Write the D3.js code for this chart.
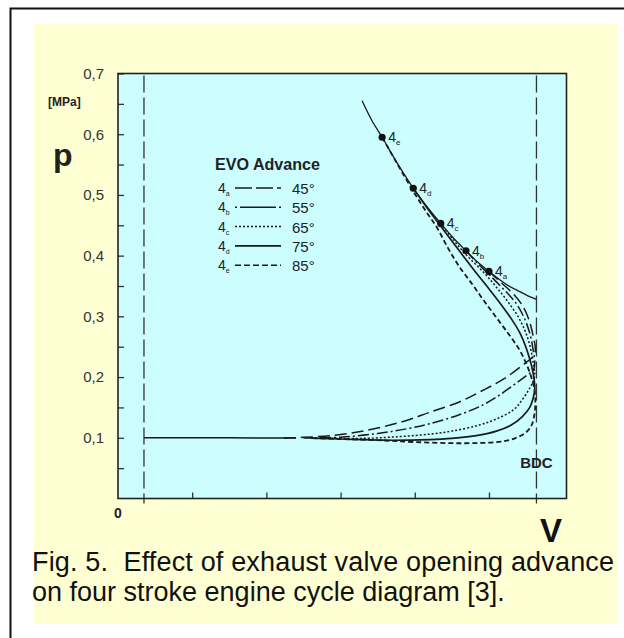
<!DOCTYPE html>
<html>
<head>
<meta charset="utf-8">
<script src="https://cdn.jsdelivr.net/npm/d3@7"></script>
<style>
  html, body { margin: 0; padding: 0; background: #ffffff; }
  svg { display: block; }
  text { font-family: "Liberation Sans", Arial, sans-serif; }
</style>
</head>
<body>
<script>
// ---------------- data ----------------
const yTicks = [0.1, 0.2, 0.3, 0.4, 0.5, 0.6, 0.7];
const yTickLabels = ["0,1", "0,2", "0,3", "0,4", "0,5", "0,6", "0,7"];
const yMinorTicks = [0.05, 0.15, 0.25, 0.35, 0.45, 0.55, 0.65];
const xTicks = [1, 2, 3, 4, 5];
const vTDC = 0.35;
const vBDC = 5.64;

const evoLetters = ["a", "b", "c", "d", "e"];
const evoAngles = ["45°", "55°", "65°", "75°", "85°"];

// EVO points 4a..4e on the expansion line [V, p]
const evoPoints = [[5.00, 0.374], [4.69, 0.408], [4.35, 0.453], [3.98, 0.511], [3.56, 0.595]];

// main expansion line (thin solid)
const expansion = [[3.29, 0.655], [3.42, 0.623], [3.56, 0.595], [3.77, 0.551], [3.98, 0.511],
  [4.17, 0.480], [4.35, 0.453], [4.52, 0.429], [4.69, 0.408], [4.85, 0.389], [5.00, 0.374],
  [5.23, 0.353], [5.41, 0.341], [5.54, 0.333], [5.64, 0.328]];

// exhaust base line at 0.1 MPa
const exhaustBase = [[0.35, 0.100], [1.5, 0.100], [2.4, 0.0995]];

// 45° — long dash
const curveA = [[5.00, 0.374], [5.17, 0.355], [5.32, 0.338], [5.45, 0.318], [5.54, 0.294],
  [5.595, 0.268], [5.625, 0.247], [5.61, 0.236], [5.50, 0.224], [5.20, 0.197], [4.90, 0.177],
  [4.60, 0.159], [4.20, 0.142], [3.90, 0.129], [3.50, 0.116], [3.10, 0.107], [2.70, 0.102],
  [2.20, 0.0995]];
// 55° — dash-dot
const curveB = [[4.69, 0.408], [4.85, 0.387], [5.00, 0.369], [5.17, 0.348], [5.35, 0.324],
  [5.47, 0.299], [5.55, 0.272], [5.595, 0.245], [5.617, 0.222], [5.60, 0.212], [5.50, 0.202],
  [5.30, 0.184], [5.10, 0.167], [4.90, 0.153], [4.60, 0.138], [4.20, 0.123], [3.90, 0.115],
  [3.50, 0.107], [3.00, 0.101], [2.50, 0.0995]];
// 65° — dotted
const curveC = [[4.35, 0.453], [4.52, 0.426], [4.68, 0.403], [4.90, 0.376], [5.08, 0.351],
  [5.25, 0.325], [5.40, 0.298], [5.50, 0.272], [5.565, 0.245], [5.60, 0.220], [5.617, 0.205],
  [5.60, 0.194], [5.55, 0.182], [5.45, 0.163], [5.33, 0.146], [5.10, 0.131], [4.87, 0.121],
  [4.50, 0.111], [4.20, 0.106], [3.80, 0.102], [3.30, 0.099], [2.70, 0.0995]];
// 75° — solid
const curveD = [[3.98, 0.511], [4.17, 0.478], [4.34, 0.450], [4.50, 0.424], [4.65, 0.400],
  [4.80, 0.376], [4.97, 0.350], [5.13, 0.325], [5.29, 0.298], [5.42, 0.272], [5.51, 0.245],
  [5.575, 0.218], [5.61, 0.195], [5.617, 0.180], [5.595, 0.165], [5.55, 0.150], [5.45, 0.135],
  [5.30, 0.121], [5.10, 0.111], [4.85, 0.104], [4.50, 0.099], [4.20, 0.097], [3.60, 0.096],
  [3.00, 0.098], [2.60, 0.0995]];
// 85° — short dash
const curveE = [[3.56, 0.595], [3.77, 0.550], [3.98, 0.506], [4.14, 0.475], [4.30, 0.446],
  [4.45, 0.412], [4.60, 0.382], [4.78, 0.352], [4.93, 0.326], [5.10, 0.298], [5.27, 0.270],
  [5.41, 0.245], [5.51, 0.220], [5.58, 0.196], [5.615, 0.178], [5.625, 0.160], [5.615, 0.140],
  [5.575, 0.121], [5.50, 0.109], [5.30, 0.097], [5.10, 0.093], [4.65, 0.091], [4.00, 0.093],
  [3.50, 0.096], [3.00, 0.098], [2.60, 0.0995]];

const captionLines = ["Fig. 5.  Effect of exhaust valve opening advance",
                      "on four stroke engine cycle diagram [3]."];

// ---------------- drawing ----------------
const W = 624, H = 638;
const plot = { left: 118, right: 566.5, top: 73.5, bottom: 498.5 };

const svg = d3.select("body").append("svg").attr("width", W).attr("height", H);

// outer frame and yellow panel
svg.append("rect").attr("x", 0).attr("y", 0).attr("width", W).attr("height", H).attr("fill", "#ffffff");
svg.append("rect").attr("x", 34).attr("y", 24).attr("width", 583).attr("height", 600).attr("fill", "#ffffd4");
svg.append("path").attr("d", `M10.5,${H + 5} V8.5 H${W + 5}`).attr("fill", "none")
  .attr("stroke", "#111").attr("stroke-width", 2);

const x = d3.scaleLinear().domain([0, 6.045]).range([plot.left, plot.right]);
const y = d3.scaleLinear().domain([0, 0.7]).range([plot.bottom, plot.top]);

// plot background
svg.append("rect").attr("x", plot.left).attr("y", plot.top)
  .attr("width", plot.right - plot.left).attr("height", plot.bottom - plot.top)
  .attr("fill", "#ccfdff");

// TDC/BDC dashed verticals
[vTDC, vBDC].forEach(v => {
  svg.append("line").attr("x1", x(v)).attr("x2", x(v))
    .attr("y1", plot.top + 2).attr("y2", plot.bottom + 5)
    .attr("stroke", "#333").attr("stroke-width", 1.3).attr("stroke-dasharray", "17,5");
});

// axes
const yAxis = d3.axisLeft(y).tickValues(yTicks).tickSizeInner(-6).tickSizeOuter(0)
  .tickPadding(14).tickFormat((d, i) => yTickLabels[i]);
const gy = svg.append("g").attr("transform", `translate(${plot.left},0)`).call(yAxis);
gy.select(".domain").remove();
gy.selectAll(".tick line").attr("stroke", "#333").attr("stroke-width", 1.3);
gy.selectAll(".tick text").attr("font-size", 15).attr("fill", "#333")
  .style("font-family", "'Liberation Sans', Arial, sans-serif");

const yMinor = d3.axisLeft(y).tickValues(yMinorTicks).tickSizeInner(-6).tickSizeOuter(0).tickFormat("");
const gym = svg.append("g").attr("transform", `translate(${plot.left},0)`).call(yMinor);
gym.select(".domain").remove();
gym.selectAll(".tick line").attr("stroke", "#333").attr("stroke-width", 1.3);

const xAxis = d3.axisBottom(x).tickValues(xTicks).tickSizeInner(-6).tickSizeOuter(0).tickFormat("");
const gx = svg.append("g").attr("transform", `translate(0,${plot.bottom})`).call(xAxis);
gx.select(".domain").remove();
gx.selectAll(".tick line").attr("stroke", "#333").attr("stroke-width", 1.3);

// plot border
svg.append("rect").attr("x", plot.left).attr("y", plot.top)
  .attr("width", plot.right - plot.left).attr("height", plot.bottom - plot.top)
  .attr("fill", "none").attr("stroke", "#222").attr("stroke-width", 1.6);

// curves
const line = d3.line().x(d => x(d[0])).y(d => y(d[1])).curve(d3.curveCatmullRom.alpha(0.5));
const styles = [
  { data: curveA, dash: "12,5", w: 1.5 },
  { data: curveB, dash: "11,3,2,3", w: 1.5 },
  { data: curveC, dash: "2,2", w: 1.5 },
  { data: curveD, dash: null, w: 1.7 },
  { data: curveE, dash: "5,3", w: 1.8 }
];
styles.forEach(s => {
  svg.append("path").attr("d", line(s.data)).attr("fill", "none")
    .attr("stroke", "#1a1a1a").attr("stroke-width", s.w)
    .attr("stroke-dasharray", s.dash);
});
svg.append("path").attr("d", line(expansion)).attr("fill", "none")
  .attr("stroke", "#1a1a1a").attr("stroke-width", 1.3);
svg.append("path").attr("d", line(exhaustBase)).attr("fill", "none")
  .attr("stroke", "#1a1a1a").attr("stroke-width", 1.5);

// EVO points + labels
evoPoints.forEach((pt, i) => {
  svg.append("circle").attr("cx", x(pt[0])).attr("cy", y(pt[1])).attr("r", 3.6).attr("fill", "#111");
  const t = svg.append("text").attr("x", x(pt[0]) + 6).attr("y", y(pt[1]) + 5)
    .attr("font-size", 14).attr("fill", "#222");
  t.append("tspan").text("4");
  t.append("tspan").attr("font-size", 8).attr("dy", 3).text(evoLetters[i]);
});

// legend
svg.append("text").attr("x", 215).attr("y", 170).attr("font-size", 16).attr("font-weight", "bold")
  .attr("fill", "#222").attr("textLength", 105).attr("lengthAdjust", "spacingAndGlyphs").text("EVO Advance");
const legendDash = ["17,4", "2,3,36,3,2,100", "2,2", null, "6,3"];
evoLetters.forEach((L, i) => {
  const cy = 188 + i * 19.3;
  const t = svg.append("text").attr("x", 218).attr("y", cy + 5).attr("font-size", 14).attr("fill", "#222");
  t.append("tspan").text("4");
  t.append("tspan").attr("font-size", 7).attr("dy", 3).text(L);
  svg.append("line").attr("x1", 235).attr("x2", 281).attr("y1", cy).attr("y2", cy)
    .attr("stroke", "#1a1a1a").attr("stroke-width", i === 3 ? 1.7 : 1.5)
    .attr("stroke-dasharray", legendDash[i]);
  svg.append("text").attr("x", 292).attr("y", cy + 6).attr("font-size", 15).attr("fill", "#222").text(evoAngles[i]);
});

// axis titles / labels
svg.append("text").attr("x", 48).attr("y", 106).attr("font-size", 12).attr("font-weight", "bold")
  .attr("fill", "#222").text("[MPa]");
svg.append("text").attr("x", 53).attr("y", 166).attr("font-size", 32).attr("font-weight", "bold")
  .attr("fill", "#222").text("p");
svg.append("text").attr("x", x(0)).attr("y", 518).attr("font-size", 14).attr("font-weight", "bold")
  .attr("text-anchor", "middle").attr("fill", "#222").text("0");
svg.append("text").attr("x", 551).attr("y", 542).attr("font-size", 33).attr("font-weight", "bold")
  .attr("text-anchor", "middle").attr("fill", "#111").text("V");
svg.append("text").attr("x", x(vBDC)).attr("y", 467.5).attr("font-size", 15).attr("font-weight", "bold")
  .attr("text-anchor", "middle").attr("fill", "#222").text("BDC");

// caption
svg.append("text").attr("x", 32).attr("y", 571).attr("font-size", 27).attr("fill", "#111")
  .attr("textLength", 582).attr("lengthAdjust", "spacing").style("white-space", "pre").text(captionLines[0]);
svg.append("text").attr("x", 32).attr("y", 601).attr("font-size", 27).attr("fill", "#111")
  .text(captionLines[1]);
</script>
</body>
</html>
